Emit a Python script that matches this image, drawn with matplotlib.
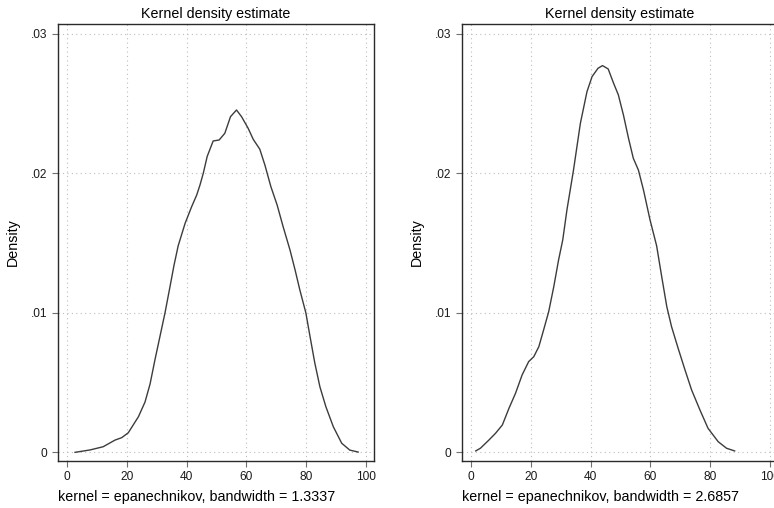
import matplotlib.pyplot as plt
from matplotlib.ticker import FuncFormatter

# kernel density curve, bandwidth = 1.3337
x_bw1 = [2.7, 7.7, 12.1, 16.1, 18.3, 20.5, 23.9, 26.1, 27.8, 29.4, 31.1, 32.8, 34.4,
         35.8, 37.2, 39.5, 41.7, 43.4, 44.5, 45.6, 46.9, 48.9, 50.9, 52.8, 54.7,
         56.7, 58.4, 60.6, 62.3, 64.5, 66.2, 68.2, 70.3, 72.3, 74.6, 76.3, 77.9, 79.9,
         81.3, 82.9, 84.6, 86.6, 89.1, 91.9, 94.6, 97.4]
y_bw1 = [0.00000, 0.00017, 0.00040, 0.00088, 0.00105, 0.00140, 0.00255, 0.00360, 0.00490,
         0.00660, 0.00830, 0.01000, 0.01180, 0.01340, 0.01480, 0.01640, 0.01760, 0.01844,
         0.01916, 0.02000, 0.02120, 0.02231, 0.02238, 0.02286, 0.02405, 0.02453,
         0.02405, 0.02322, 0.02243, 0.02172, 0.02059, 0.01904, 0.01772, 0.01617, 0.01450,
         0.01307, 0.01163, 0.01000, 0.00830, 0.00640, 0.00470, 0.00327, 0.00183, 0.00065,
         0.00016, 0.00002]

# kernel density curve, bandwidth = 2.6857
x_bw2 = [1.6, 3.2, 6.0, 8.2, 10.5, 12.7, 14.9, 17.1, 19.3, 21.0, 22.7, 24.3, 26.0, 27.7,
         29.3, 30.7, 32.1, 34.3, 36.6, 38.8, 40.5, 42.5, 44.0, 45.9, 47.7, 49.3, 51.0,
         52.7, 54.3, 56.0, 57.7, 59.9, 62.1, 63.8, 65.5, 67.1, 69.3, 71.6, 73.8, 76.6,
         79.3, 82.7, 85.5, 88.2]
y_bw2 = [0.00010, 0.00030, 0.00088, 0.00136, 0.00196, 0.00315, 0.00423, 0.00554, 0.00650,
         0.00685, 0.00757, 0.00877, 0.01008, 0.01187, 0.01378, 0.01522, 0.01737, 0.02023,
         0.02358, 0.02584, 0.02692, 0.02752, 0.02771, 0.02747, 0.02645, 0.02561, 0.02417,
         0.02250, 0.02107, 0.02023, 0.01880, 0.01665, 0.01480, 0.01259, 0.01044, 0.00900,
         0.00745, 0.00590, 0.00447, 0.00303, 0.00172, 0.00076, 0.00029, 0.00010]

x_ticks = [0, 20, 40, 60, 80, 100]
y_ticks = [0, 0.01, 0.02, 0.03]
bw_labels = ['1.3337', '2.6857']

plt.rcParams['font.family'] = ['Liberation Sans', 'DejaVu Sans']


def y_fmt(v, pos):
    if abs(v) < 1e-9:
        return '0'
    return ('%.2f' % v).lstrip('0')


def draw_panel(ax, xs, ys, bw):
    ax.plot(xs, ys, color='#3c3c3c', linewidth=1.0)
    ax.set_xlim(-3.0, 102.7)
    ax.set_ylim(-0.0006, 0.03067)
    ax.set_xticks(x_ticks)
    ax.set_yticks(y_ticks)
    ax.yaxis.set_major_formatter(FuncFormatter(y_fmt))
    ax.grid(True, color='#bdbdbd', linestyle=(0, (1, 3)), linewidth=0.8)
    ax.tick_params(axis='both', length=4, width=0.8, color='#707070',
                   labelsize=8.6, pad=3.5, labelcolor='#1a1a1a')
    for side in ['left', 'bottom', 'top', 'right']:
        ax.spines[side].set_color('#2a2a2a')
        ax.spines[side].set_linewidth(1.0)
    ax.set_title('Kernel density estimate', fontsize=10.3, pad=4.5)
    ax.set_ylabel('Density', fontsize=10.3, labelpad=8)
    ax.set_xlabel('kernel = epanechnikov, bandwidth = ' + bw,
                  fontsize=10.3, loc='left', labelpad=5)


fig = plt.figure(figsize=(7.74, 5.08), dpi=100)
ax1 = fig.add_axes([58 / 774, 47.3 / 508, 316 / 774, 436.4 / 508])
ax2 = fig.add_axes([462 / 774, 47.3 / 508, 316 / 774, 436.4 / 508])

draw_panel(ax1, x_bw1, y_bw1, bw_labels[0])
draw_panel(ax2, x_bw2, y_bw2, bw_labels[1])

fig.savefig('out.png', dpi=100)
